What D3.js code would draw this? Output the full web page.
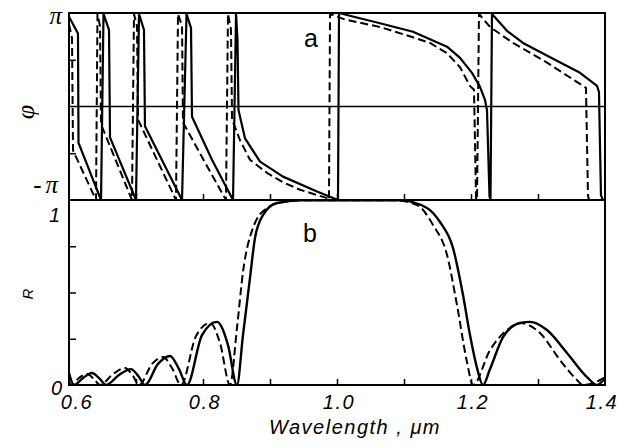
<!DOCTYPE html>
<html>
<head>
<meta charset="utf-8">
<script src="https://cdn.jsdelivr.net/npm/d3@7"></script>
<style>
  body { margin: 0; background: #fff; }
  text { fill: #000; }
</style>
</head>
<body>
<svg id="chart" width="618" height="448"></svg>
<script>
// Wavelength axis (µm)
const wavelengthLabels = [0.6, 0.8, 1.0, 1.2, 1.4];
const wavelengthTicks = [0.7, 0.8, 0.9, 1.0, 1.1, 1.2, 1.3];
const phaseTicks = [-0.5, 0.5];          // in units of π
const reflectanceTicks = [0.25, 0.5, 0.75];

// Panel a: reflection phase φ/π, solid structure
const phaseSolidX = [0.600, 0.6134, 0.6142, 0.6478, 0.6515, 0.6597, 0.6612, 0.700, 0.7045, 0.7119, 0.7134, 0.7687,
  0.7754, 0.7821, 0.7836, 0.8134, 0.8448, 0.8493, 0.8515, 0.8530, 0.8627, 0.8851, 0.9194, 0.9701, 1.0015, 1.003,
  1.025, 1.0642, 1.1134, 1.1642, 1.1836, 1.2015, 1.2134, 1.2209, 1.2239, 1.2276, 1.2291, 1.2313, 1.2537, 1.2776,
  1.3224, 1.3627, 1.3881, 1.391, 1.394, 1.397];
const phaseSolidY = [0.96, 0.78, -0.39, -1, 0.99, 0.82, -0.33, -1, 0.99, 0.82, -0.21, -1,
  0.99, 0.84, -0.11, -0.57, -1, 0.99, 0.71, -0.04, -0.34, -0.59, -0.75, -0.91, -1, 1.0,
  0.96, 0.89, 0.80, 0.64, 0.52, 0.36, 0.21, 0.07, -0.04, -0.96, -1, 0.99, 0.81, 0.68,
  0.51, 0.36, 0.22, 0.155, -0.95, -1];

// Panel a: reflection phase φ/π, dashed structure
const phaseDashedX = [0.600, 0.6045, 0.606, 0.6403, 0.6425, 0.6463, 0.6478, 0.694, 0.697, 0.7015, 0.703, 0.7597,
  0.7627, 0.7687, 0.7701, 0.803, 0.8343, 0.8373, 0.8418, 0.8433, 0.8552, 0.8701, 0.8955, 0.9194, 0.9448, 0.9851,
  0.988, 0.9896, 1.0119, 1.0642, 1.1134, 1.1388, 1.1642, 1.1836, 1.1985, 1.2045, 1.2075, 1.209, 1.2119, 1.2284,
  1.2627, 1.3134, 1.3478, 1.3716, 1.3746, 1.3761];
const phaseDashedY = [0.88, 0.73, -0.47, -1, 0.99, 0.86, -0.19, -1, 0.99, 0.86, -0.14, -1,
  0.99, 0.86, -0.17, -0.60, -1, 0.99, 0.82, -0.14, -0.36, -0.57, -0.71, -0.81, -0.89, -0.98,
  -1, 0.99, 0.93, 0.85, 0.74, 0.68, 0.57, 0.42, 0.22, 0.18, -0.98, -1, 0.99, 0.85,
  0.68, 0.47, 0.31, 0.20, -0.95, -1];

// Panel b: reflectance R, solid structure
const reflSolidX = [0.600, 0.6075, 0.6209, 0.6343, 0.6463, 0.6552, 0.6746, 0.6925, 0.7045, 0.7134, 0.7328, 0.7507,
  0.7642, 0.7761, 0.7985, 0.8209, 0.8373, 0.8507, 0.8597, 0.8701, 0.8776, 0.8896, 0.9104, 0.9448, 1.094, 1.1343,
  1.1537, 1.1731, 1.1881, 1.1985, 1.209, 1.2179, 1.2284, 1.2478, 1.2731, 1.288, 1.3134, 1.3433, 1.3731, 1.388, 1.400];
const reflSolidY = [0.065, 0, 0.038, 0.065, 0.032, 0, 0.054, 0.086, 0.043, 0, 0.114, 0.157,
  0.086, 0, 0.270, 0.341, 0.216, 0, 0.270, 0.578, 0.795, 0.919, 0.984, 0.998, 0.998, 0.957,
  0.881, 0.741, 0.486, 0.270, 0.092, 0, 0.086, 0.259, 0.335, 0.341, 0.297, 0.173, 0.043, 0, 0.038];

// Panel b: reflectance R, dashed structure
const reflDashedX = [0.600, 0.603, 0.6149, 0.6269, 0.6373, 0.6463, 0.6657, 0.6836, 0.6955, 0.7045, 0.7239, 0.7403,
  0.7537, 0.7672, 0.7896, 0.8104, 0.8254, 0.8403, 0.8507, 0.8597, 0.8746, 0.8955, 0.9194, 0.9448, 1.0866, 1.1194,
  1.1433, 1.1642, 1.1791, 1.194, 1.203, 1.2284, 1.2537, 1.2731, 1.303, 1.3328, 1.3582, 1.3672, 1.3925, 1.400];
const reflDashedY = [0.022, 0, 0.038, 0.059, 0.032, 0, 0.059, 0.092, 0.049, 0, 0.114, 0.151,
  0.092, 0, 0.265, 0.335, 0.227, 0, 0.308, 0.611, 0.849, 0.957, 0.989, 0.998, 0.998, 0.973,
  0.865, 0.703, 0.432, 0.124, 0, 0.189, 0.297, 0.335, 0.281, 0.135, 0.027, 0, 0.027, 0.043];

const zip = (xs, ys) => xs.map((v, i) => [v, ys[i]]);

const svg = d3.select("#chart");
const left = 69, right = 605;
const aTop = 13, mid = 200, bBottom = 385;

const x = d3.scaleLinear().domain([0.6, 1.4]).range([left, right]);
const yPhase = d3.scaleLinear().domain([-1, 1]).range([mid, aTop]);
const yR = d3.scaleLinear().domain([0, 1]).range([bBottom, mid]);

const defs = svg.append("defs");
defs.append("clipPath").attr("id", "clipA")
  .append("rect").attr("x", left).attr("y", aTop - 1).attr("width", right - left).attr("height", mid - aTop + 2);
defs.append("clipPath").attr("id", "clipB")
  .append("rect").attr("x", left).attr("y", mid - 1).attr("width", right - left).attr("height", bBottom - mid + 2);

// Inside tick marks
function ticksGroup(axis, transform) {
  const g = svg.append("g").attr("transform", transform).call(axis);
  g.select(".domain").remove();
  g.selectAll(".tick line").attr("stroke", "#000").attr("stroke-width", 1.5);
  g.selectAll(".tick text").remove();
  return g;
}
ticksGroup(d3.axisBottom(x).tickValues(wavelengthTicks).tickSize(-6), `translate(0,${mid})`);
ticksGroup(d3.axisBottom(x).tickValues(wavelengthTicks).tickSize(-6), `translate(0,${bBottom})`);
ticksGroup(d3.axisLeft(yPhase).tickValues(phaseTicks).tickSize(-7), `translate(${left},0)`);
ticksGroup(d3.axisLeft(yR).tickValues(reflectanceTicks).tickSize(-7), `translate(${left},0)`);

// φ = 0 reference line
svg.append("line")
  .attr("x1", left).attr("x2", right)
  .attr("y1", yPhase(0)).attr("y2", yPhase(0))
  .attr("stroke", "#000").attr("stroke-width", 1.6);

// Curves
const linePhase = d3.line().x(d => x(d[0])).y(d => yPhase(d[1]));
const lineR = d3.line().x(d => x(d[0])).y(d => yR(d[1])).curve(d3.curveMonotoneX);

const gA = svg.append("g").attr("clip-path", "url(#clipA)");
gA.append("path").datum(zip(phaseDashedX, phaseDashedY))
  .attr("d", linePhase).attr("fill", "none").attr("stroke", "#000")
  .attr("stroke-width", 2).attr("stroke-dasharray", "8,4").attr("stroke-linejoin", "round");
gA.append("path").datum(zip(phaseSolidX, phaseSolidY))
  .attr("d", linePhase).attr("fill", "none").attr("stroke", "#000")
  .attr("stroke-width", 2.2).attr("stroke-linejoin", "round");

const gB = svg.append("g").attr("clip-path", "url(#clipB)");
gB.append("path").datum(zip(reflDashedX, reflDashedY))
  .attr("d", lineR).attr("fill", "none").attr("stroke", "#000")
  .attr("stroke-width", 2).attr("stroke-dasharray", "8,4");
gB.append("path").datum(zip(reflSolidX, reflSolidY))
  .attr("d", lineR).attr("fill", "none").attr("stroke", "#000")
  .attr("stroke-width", 2.4);

// Frames
[[aTop, mid], [mid, bBottom]].forEach(([t, b]) => {
  svg.append("rect").attr("x", left).attr("y", t)
    .attr("width", right - left).attr("height", b - t)
    .attr("fill", "none").attr("stroke", "#000").attr("stroke-width", 2);
});

// Wavelength tick labels
const tickFont = "'Liberation Sans', Arial, sans-serif";
svg.append("g").selectAll("text").data(wavelengthLabels).join("text")
  .attr("x", (d, i) => x(d) + (i === 0 ? 8 : (i === wavelengthLabels.length - 1 ? -3 : 2)))
  .attr("y", 409)
  .attr("text-anchor", "middle")
  .attr("font-family", tickFont).attr("font-style", "italic")
  .attr("font-size", 20).attr("letter-spacing", 1.5)
  .text(d => d3.format(".1f")(d));

svg.append("text")
  .attr("x", 355).attr("y", 434)
  .attr("text-anchor", "middle")
  .attr("font-family", tickFont).attr("font-style", "italic")
  .attr("font-size", 20).attr("letter-spacing", 1.5)
  .text("Wavelength , μm");

// Vertical axis labels
const greekFont = "'Liberation Serif', 'DejaVu Serif', serif";
svg.append("text").attr("x", 62).attr("y", 24).attr("text-anchor", "end")
  .attr("font-family", greekFont).attr("font-style", "italic").attr("font-size", 25).text("π");
svg.append("text").attr("x", 62).attr("y", 193).attr("text-anchor", "end")
  .attr("font-family", greekFont).attr("font-style", "italic").attr("font-size", 25)
  .attr("letter-spacing", 4).text("-π");
svg.append("text").attr("x", 60).attr("y", 222).attr("text-anchor", "end")
  .attr("font-family", tickFont).attr("font-style", "italic").attr("font-size", 20).text("1");
svg.append("text").attr("x", 62).attr("y", 395).attr("text-anchor", "end")
  .attr("font-family", tickFont).attr("font-style", "italic").attr("font-size", 20).text("0");

svg.append("text")
  .attr("transform", "translate(34,112) rotate(-90)")
  .attr("text-anchor", "middle")
  .attr("font-family", greekFont).attr("font-style", "italic").attr("font-size", 26).text("φ");
svg.append("text")
  .attr("transform", "translate(33,294) rotate(-90)")
  .attr("text-anchor", "middle")
  .attr("font-family", tickFont).attr("font-style", "italic").attr("font-size", 15).text("R");

// Panel letters
svg.append("text").attr("x", 311).attr("y", 47).attr("text-anchor", "middle")
  .attr("font-family", tickFont).attr("font-size", 25).text("a");
svg.append("text").attr("x", 310).attr("y", 242).attr("text-anchor", "middle")
  .attr("font-family", tickFont).attr("font-size", 25).text("b");
</script>
</body>
</html>
